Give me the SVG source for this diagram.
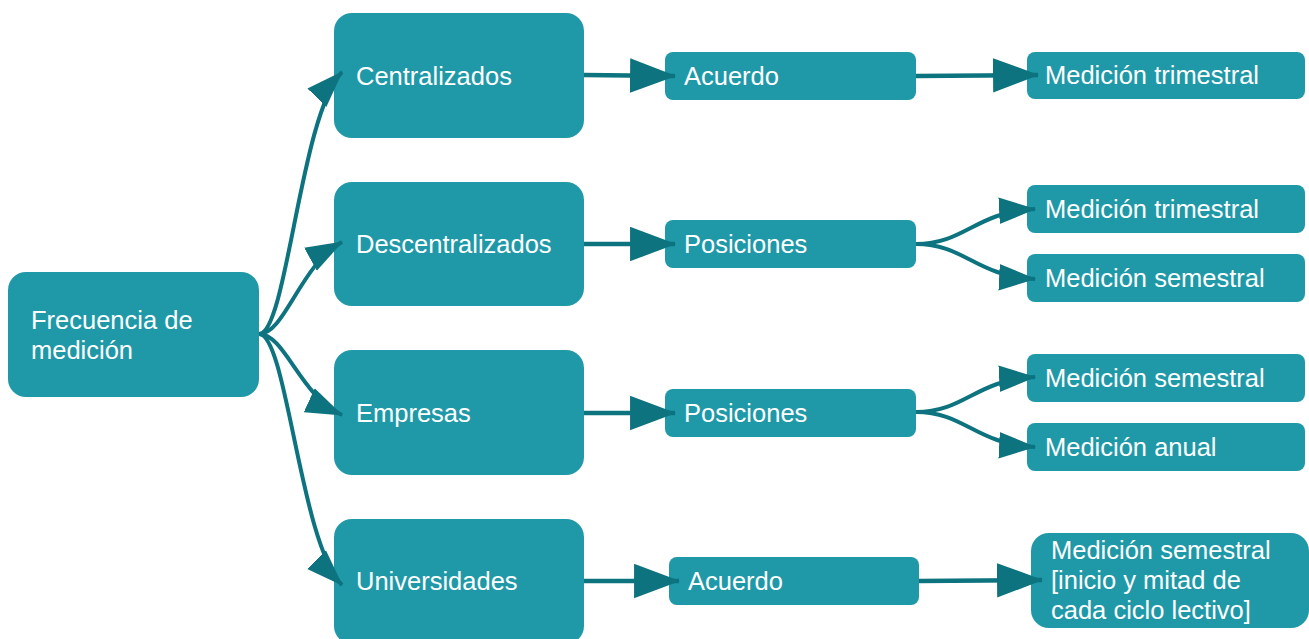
<svg xmlns="http://www.w3.org/2000/svg" width="1309" height="639" viewBox="0 0 1309 639">
<style>
.box{fill:#1f99a7;}
.t{font-family:"Liberation Sans",Arial,sans-serif;font-size:25.5px;fill:#ffffff;}
.e{fill:none;stroke:#0d737f;stroke-width:4;}
.s{fill:none;stroke:#0d737f;stroke-width:4.5;}
</style>
<defs>
<marker id="big" markerUnits="userSpaceOnUse" markerWidth="46" markerHeight="35" viewBox="0 0 44 33" refX="43" refY="16.5" orient="auto">
<path d="M0,0 L44,16.5 L0,33 Z" fill="#0d737f"/>
</marker>
<marker id="sm" markerUnits="userSpaceOnUse" markerWidth="37" markerHeight="27" viewBox="0 0 35 25" refX="34" refY="12.5" orient="auto">
<path d="M0,0 L35,12.5 L0,25 Z" fill="#0d737f"/>
</marker>
</defs>
<rect width="1309" height="639" fill="#ffffff"/>
<g id="n-root"><rect class="box" x="8" y="272" width="251" height="125" rx="18"/><text class="t" x="31" y="329">Frecuencia de</text><text class="t" x="31" y="359">medición</text></g>
<g id="n-centralizados"><rect class="box" x="334" y="13" width="250" height="125" rx="18"/><text class="t" x="356" y="85">Centralizados</text></g>
<g id="n-descentralizados"><rect class="box" x="334" y="182" width="250" height="124" rx="18"/><text class="t" x="356" y="253">Descentralizados</text></g>
<g id="n-empresas"><rect class="box" x="334" y="350" width="250" height="125" rx="18"/><text class="t" x="356" y="422">Empresas</text></g>
<g id="n-universidades"><rect class="box" x="334" y="519" width="250" height="125" rx="18"/><text class="t" x="356" y="590">Universidades</text></g>
<g id="n-acuerdo1"><rect class="box" x="665" y="52" width="251" height="48" rx="8"/><text class="t" x="684" y="85">Acuerdo</text></g>
<g id="n-posiciones1"><rect class="box" x="665" y="220" width="251" height="48" rx="8"/><text class="t" x="684" y="253">Posiciones</text></g>
<g id="n-posiciones2"><rect class="box" x="665" y="389" width="251" height="48" rx="8"/><text class="t" x="684" y="422">Posiciones</text></g>
<g id="n-acuerdo2"><rect class="box" x="669" y="557" width="250" height="48" rx="8"/><text class="t" x="688" y="590">Acuerdo</text></g>
<g id="n-trim1"><rect class="box" x="1027" y="52" width="278" height="47" rx="8"/><text class="t" x="1045" y="84">Medición trimestral</text></g>
<g id="n-trim2"><rect class="box" x="1027" y="185" width="278" height="48" rx="8"/><text class="t" x="1045" y="218">Medición trimestral</text></g>
<g id="n-sem1"><rect class="box" x="1027" y="254" width="278" height="48" rx="8"/><text class="t" x="1045" y="287">Medición semestral</text></g>
<g id="n-sem2"><rect class="box" x="1027" y="354" width="278" height="48" rx="8"/><text class="t" x="1045" y="387">Medición semestral</text></g>
<g id="n-anual"><rect class="box" x="1027" y="423" width="278" height="48" rx="8"/><text class="t" x="1045" y="456">Medición anual</text></g>
<g id="n-sem3"><rect class="box" x="1031" y="533" width="278" height="95" rx="18"/><text class="t" x="1051" y="559">Medición semestral</text><text class="t" x="1051" y="589">[inicio y mitad de</text><text class="t" x="1051" y="619">cada ciclo lectivo]</text></g>
<g id="edges">
<path class="e" marker-end="url(#sm)" d="M259,334 C287,334 300,115 342,72"/>
<path class="e" marker-end="url(#sm)" d="M259,334 C285,334 300,265 342,242"/>
<path class="e" marker-end="url(#sm)" d="M259,334 C285,334 300,396 342,415"/>
<path class="e" marker-end="url(#sm)" d="M259,334 C287,334 300,543 342,585"/>
<path class="s" marker-end="url(#big)" d="M584,75 L675,76"/>
<path class="s" marker-end="url(#big)" d="M584,244 L675,244"/>
<path class="s" marker-end="url(#big)" d="M584,413 L675,413"/>
<path class="s" marker-end="url(#big)" d="M584,581 L679,581"/>
<path class="s" marker-end="url(#big)" d="M916,76 L1038,75"/>
<path class="e" marker-end="url(#sm)" d="M916,244 C965,244 975,212 1035,209"/>
<path class="e" marker-end="url(#sm)" d="M916,244 C965,244 975,276 1035,279"/>
<path class="e" marker-end="url(#sm)" d="M916,412 C965,412 975,380 1035,377"/>
<path class="e" marker-end="url(#sm)" d="M916,412 C965,412 975,444 1035,447"/>
<path class="s" marker-end="url(#big)" d="M919,581 L1042,580"/>
</g>
</svg>
